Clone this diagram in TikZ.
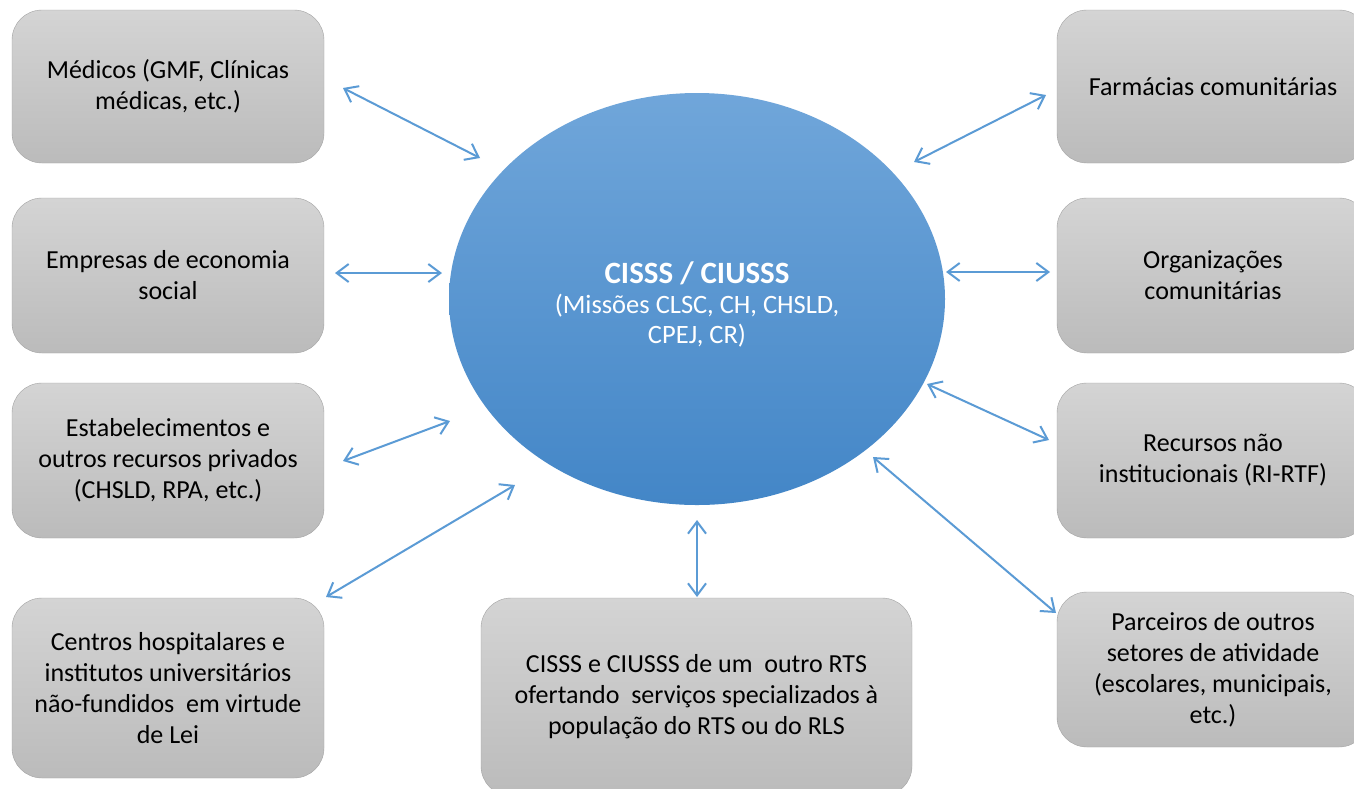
\documentclass[tikz,border=0pt]{standalone}
\usepackage{fontspec}
\setmainfont{Carlito}
\usetikzlibrary{arrows.meta,shapes.geometric}

\begin{document}
\begin{tikzpicture}[x=1pt,y=-1pt,
graybox/.style={draw=boxline,rounded corners=30pt,top color=boxtop,bottom color=boxbottom,
  minimum width=312pt,minimum height=155pt,inner sep=0pt,align=center,
  font=\fontsize{26}{31}\selectfont},
hub/.style={ellipse,draw=none,top color=hubtop,bottom color=hubbottom,
  minimum width=496pt,minimum height=412pt,inner sep=0pt},
hubtext/.style={align=center,text=white,font=\fontsize{26.5}{30}\selectfont},
link/.style={draw=linkblue,line width=2pt,
  {Straight Barb[length=12pt,width=18pt]}-{Straight Barb[length=12pt,width=18pt]}}]

\definecolor{boxline}{HTML}{A3A3A3}
\definecolor{boxtop}{HTML}{D4D4D4}
\definecolor{boxbottom}{HTML}{BBBBBB}
\definecolor{hubtop}{HTML}{70A6DA}
\definecolor{hubbottom}{HTML}{4386C7}
\definecolor{linkblue}{HTML}{5B9BD5}

\clip (0,0) rectangle (1354,788);
\fill[white] (0,0) rectangle (1354,788);

% centre
\node[hub] (hub) at (697,299) {};
\node[hubtext] (hublabel) at (697,304)
  {{\fontsize{31}{36}\selectfont\bfseries CISSS / CIUSSS}\\(Missões CLSC, CH, CHSLD,\\CPEJ, CR)};

% left column
\node[graybox,minimum height=153pt] (medicos) at (168,86.5) {Médicos (GMF, Clínicas\\médicas, etc.)};
\node[graybox] (empresas) at (168,275.5) {Empresas de economia\\social};
\node[graybox] (privados) at (168,460.5) {Estabelecimentos e\\outros recursos privados\\(CHSLD, RPA, etc.)};
\node[graybox,minimum height=180pt] (hospitalares) at (168,688) {Centros hospitalares e\\institutos universitários\\não-fundidos\ \ em virtude\\de Lei};

% right column
\node[graybox,minimum height=153pt] (farmacias) at (1213,86.5) {Farmácias comunitárias};
\node[graybox] (organizacoes) at (1213,275.5) {Organizações\\comunitárias};
\node[graybox] (recursos) at (1213,460.5) {Recursos não\\institucionais (RI-RTF)};
\node[graybox] (parceiros) at (1213,669.5) {Parceiros de outros\\setores de atividade\\(escolares, municipais,\\etc.)};

% bottom
\node[graybox,minimum width=431pt,minimum height=198pt] (outrorts) at (696.5,697) {CISSS e CIUSSS de um\ \ outro RTS\\ofertando\ \ serviços specializados à\\população do RTS ou do RLS};

% arrow ends
\coordinate (medicosA) at (343,88);   \coordinate (medicosB) at (480,158);
\coordinate (empresasA) at (335,273); \coordinate (empresasB) at (442,273);
\coordinate (privadosA) at (343,461); \coordinate (privadosB) at (450,421);
\coordinate (hospA) at (326,597);     \coordinate (hospB) at (515,485);
\coordinate (rtsA) at (697,520);      \coordinate (rtsB) at (697,597);
\coordinate (farmA) at (914,162);     \coordinate (farmB) at (1046,95);
\coordinate (orgA) at (946,272);      \coordinate (orgB) at (1050,272);
\coordinate (recA) at (927,384);      \coordinate (recB) at (1049,440);
\coordinate (parcA) at (873,457);     \coordinate (parcB) at (1056,613);

\draw[link] (medicosA) -- (medicosB);
\draw[link] (empresasA) -- (empresasB);
\draw[link] (privadosA) -- (privadosB);
\draw[link] (hospA) -- (hospB);
\draw[link] (rtsA) -- (rtsB);
\draw[link] (farmA) -- (farmB);
\draw[link] (orgA) -- (orgB);
\draw[link] (recA) -- (recB);
\draw[link] (parcA) -- (parcB);

\end{tikzpicture}
\end{document}
